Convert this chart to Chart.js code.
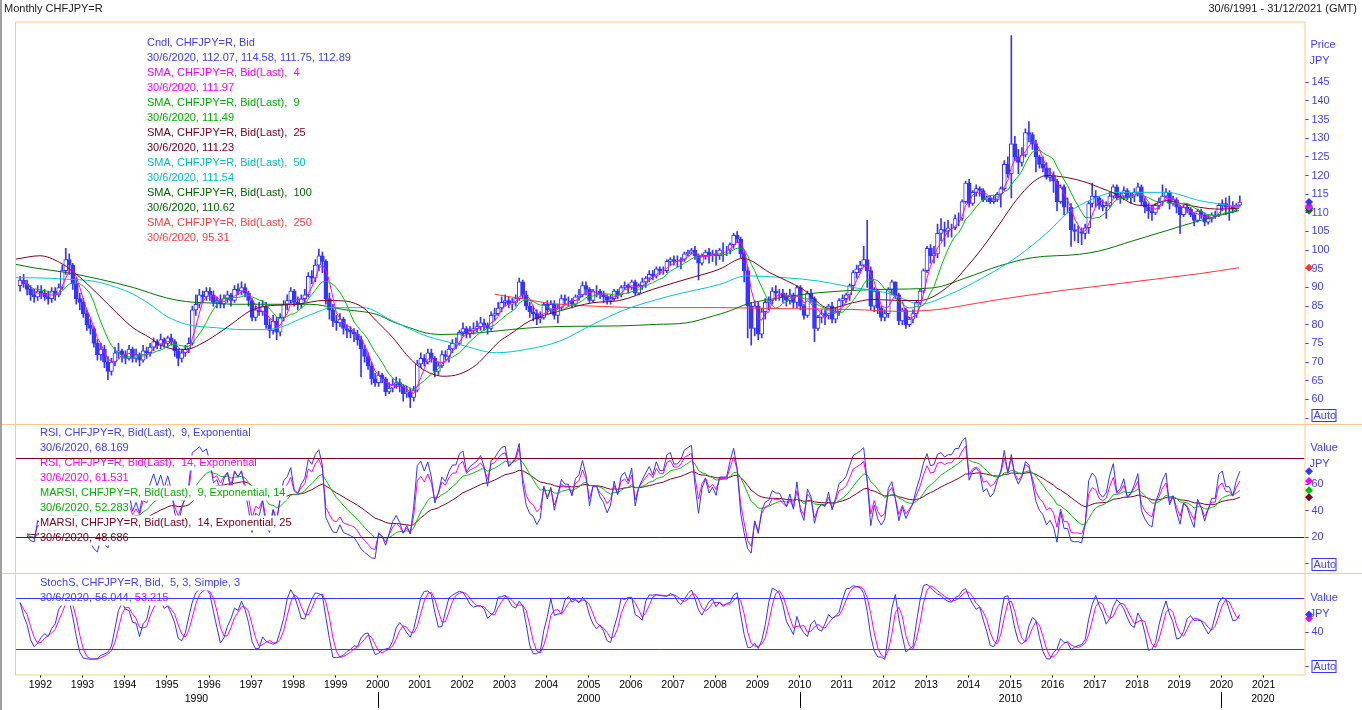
<!DOCTYPE html>
<html>
<head>
<meta charset="utf-8">
<title>Monthly CHFJPY=R</title>
<script src="https://cdn.jsdelivr.net/npm/chart.js@4.4.1/dist/chart.umd.min.js"></script>
<style>
html, body { margin: 0; padding: 0; background: #fff; overflow: hidden; }
#graphique { display: block; }
</style>
</head>
<body>
<canvas id="graphique" width="1362" height="710"></canvas>
<script>
// premier mois (juillet 1991) et ouverture du premier mois
var firstMonth = 1991.5;
var firstOpen = 90.5;

// clôtures mensuelles CHFJPY, juil. 1991 -> juin 2020
var closes = [
    92.0, 91.0, 89.5, 88.0, 87.5, 89.0,
    88.5, 87.5, 87.0, 89.0, 88.0, 90.0, 94.5, 97.5, 96.0, 91.0, 87.0, 86.0,
    83.0, 80.0, 79.0, 75.0, 72.0, 73.5, 70.0, 67.5, 70.0, 72.5, 73.0, 72.0,
    71.0, 73.5, 71.0, 72.0, 70.5, 73.0, 72.5, 74.0, 75.5, 74.5, 76.0, 75.0,
    76.5, 75.5, 73.0, 71.0, 72.5, 73.5, 75.0, 84.0, 85.5, 88.0, 87.5, 89.0,
    88.0, 86.0, 86.5, 85.5, 87.0, 88.0, 86.5, 89.5, 89.0, 90.0, 88.5, 86.5,
    82.0, 84.0, 83.5, 85.0, 80.0, 78.5, 81.0, 78.0, 82.0, 85.5, 86.5, 89.0,
    86.0, 85.5, 87.0, 88.0, 93.0, 92.5, 96.0, 98.5, 97.0, 87.0, 84.0, 81.0,
    80.5, 81.5, 79.0, 78.5, 78.0, 77.5, 76.0, 73.5, 71.5, 69.0, 65.5, 64.5,
    66.5, 65.5, 62.0, 63.0, 64.0, 64.5, 63.5, 61.5, 62.0, 60.5, 62.5, 69.5,
    71.0, 70.0, 72.5, 71.0, 67.5, 69.0, 72.0, 71.5, 73.5, 75.0, 75.0, 78.0,
    79.0, 77.5, 78.5, 79.0, 79.5, 80.5, 80.0, 79.0, 82.5, 83.0, 84.5, 86.0,
    86.5, 85.5, 86.0, 87.0, 91.5, 88.0, 85.0, 83.5, 83.0, 81.5, 82.0, 85.5,
    84.0, 85.5, 82.5, 84.5, 87.0, 86.5, 86.5, 85.5, 87.5, 88.0, 90.5, 89.5,
    86.5, 89.0, 89.0, 88.0, 87.5, 86.5, 87.0, 89.0, 88.0, 90.0, 90.5, 90.0,
    91.5, 88.5, 90.5, 91.5, 92.5, 93.5, 93.0, 95.0, 94.5, 94.5, 97.0, 97.5,
    97.0, 97.0, 97.5, 99.0, 99.5, 100.0, 98.5, 96.5, 98.5, 99.5, 98.5, 99.0,
    98.5, 100.0, 100.0, 100.0, 101.5, 104.0, 103.0, 99.0, 94.5, 85.0, 79.0, 85.0,
    77.5, 83.5, 86.0, 86.5, 89.0, 88.5, 88.5, 87.5, 86.5, 88.0, 86.0, 90.0,
    85.0, 82.5, 88.5, 87.0, 79.0, 82.0, 83.0, 82.5, 85.0, 81.5, 83.5, 86.5,
    87.0, 88.0, 90.5, 94.0, 95.0, 96.0, 97.5, 94.5, 85.0, 89.0, 84.5, 82.0,
    83.0, 89.5, 91.5, 88.0, 81.0, 84.0, 80.0, 81.5, 83.0, 86.0, 89.0, 94.5,
    100.5, 98.5, 99.0, 104.5, 105.5, 105.0, 106.0, 106.0, 108.5, 108.5, 113.0, 118.0,
    112.5, 115.5, 116.5, 116.0, 113.5, 114.0, 113.0, 113.5, 115.0, 116.5, 123.0, 120.5,
    128.5, 125.0, 123.5, 125.5, 131.5, 131.0, 128.5, 125.0, 123.0, 122.0, 119.5, 120.0,
    118.5, 113.0, 117.0, 111.5, 111.5, 105.5, 105.0, 105.0, 104.5, 106.0, 112.5, 114.5,
    114.0, 112.0, 111.5, 112.0, 114.5, 117.0, 114.0, 114.5, 116.0, 114.0, 114.5, 115.5,
    117.0, 113.0, 111.5, 110.5, 110.0, 112.0, 113.0, 114.5, 115.5, 112.5, 113.5, 111.5,
    109.5, 111.5, 111.0, 109.5, 108.0, 110.5, 109.5, 107.5, 108.5, 109.5, 109.5, 112.0,
    112.5, 111.5, 111.5, 111.0, 112.07, 112.89
];

// plus hauts mensuels
var highs = [
    93.0, 93.5, 92.0, 90.5, 89.5, 90.5,
    90.5, 89.5, 89.0, 90.0, 90.0, 91.0, 96.0, 100.5, 99.0, 96.5, 92.5, 88.5,
    87.0, 84.0, 81.5, 79.5, 76.0, 75.0, 74.5, 71.5, 71.0, 74.0, 75.0, 73.5,
    73.0, 74.5, 74.0, 73.5, 72.5, 74.5, 74.0, 75.0, 76.5, 76.0, 77.5, 76.5,
    77.0, 77.5, 76.0, 73.5, 73.5, 74.5, 76.5, 85.0, 88.0, 89.5, 89.0, 90.0,
    90.0, 89.0, 87.5, 88.0, 88.0, 89.0, 88.5, 90.5, 91.0, 91.5, 91.0, 89.0,
    87.0, 85.0, 86.0, 86.5, 86.0, 81.5, 82.5, 82.0, 83.0, 86.5, 88.0, 90.0,
    89.5, 87.5, 88.0, 89.5, 94.0, 94.5, 97.5, 100.3, 99.5, 97.5, 88.5, 85.5,
    82.5, 83.0, 82.0, 80.0, 79.5, 79.0, 78.5, 77.0, 74.5, 72.5, 70.0, 67.0,
    67.5, 67.0, 66.0, 64.5, 65.5, 66.0, 65.5, 64.0, 63.5, 63.0, 63.5, 70.5,
    72.5, 72.0, 73.5, 73.5, 71.5, 70.0, 73.0, 73.0, 74.5, 76.0, 76.5, 78.5,
    80.5, 79.5, 79.5, 80.5, 81.0, 82.0, 81.5, 80.5, 83.5, 84.5, 86.0, 87.5,
    88.0, 87.5, 87.0, 88.0, 92.5, 92.0, 89.0, 86.0, 85.0, 84.0, 83.5, 86.0,
    86.5, 86.5, 86.5, 85.5, 88.0, 88.0, 87.5, 87.0, 88.0, 89.5, 91.5, 91.5,
    90.0, 89.5, 90.5, 89.5, 89.0, 88.0, 88.0, 89.5, 89.5, 90.5, 91.5, 91.0,
    92.0, 92.0, 91.0, 92.5, 93.0, 94.5, 94.5, 95.5, 95.5, 95.5, 97.5, 98.0,
    98.5, 98.5, 98.0, 99.5, 100.0, 100.5, 101.0, 99.0, 99.0, 100.0, 100.5, 100.0,
    100.0, 100.5, 102.0, 101.0, 102.0, 104.5, 105.0, 103.5, 100.0, 95.5, 86.0, 86.5,
    86.0, 84.5, 87.0, 87.5, 90.0, 90.5, 89.5, 89.5, 88.5, 89.5, 88.5, 90.5,
    90.5, 85.5, 89.0, 89.5, 87.5, 82.5, 84.0, 84.0, 85.5, 86.0, 84.5, 87.0,
    88.0, 88.5, 91.0, 94.5, 96.0, 97.0, 101.0, 108.0, 95.5, 90.0, 89.5, 85.0,
    84.0, 90.0, 92.0, 91.5, 88.5, 84.5, 84.5, 82.0, 84.0, 86.5, 89.5, 95.0,
    101.0, 101.5, 101.0, 107.0, 108.5, 107.5, 108.0, 107.0, 109.5, 110.0, 113.5, 118.5,
    119.0, 116.0, 117.5, 117.0, 116.5, 114.5, 114.5, 114.5, 115.5, 117.0, 124.0, 125.0,
    157.5, 130.5, 127.0, 127.5, 132.5, 134.5, 131.5, 129.5, 125.5, 125.0, 123.5, 122.0,
    121.0, 119.0, 117.5, 117.5, 114.0, 112.5, 107.0, 106.5, 106.0, 107.0, 113.0, 118.0,
    116.0, 114.5, 113.5, 113.0, 115.5, 117.5, 117.5, 115.5, 117.0, 116.5, 115.5, 116.5,
    118.0, 117.5, 114.0, 112.5, 112.0, 112.5, 114.0, 117.5, 116.5, 116.0, 114.5, 114.0,
    112.0, 112.0, 112.5, 111.5, 110.0, 111.0, 111.0, 110.0, 109.5, 110.0, 110.5, 112.5,
    113.5, 114.0, 114.5, 113.0, 112.5, 114.58
];

// plus bas mensuels
var lows = [
    89.0, 90.0, 88.0, 86.5, 86.0, 86.5,
    87.0, 86.5, 85.5, 86.0, 86.5, 87.5, 89.5, 93.5, 93.5, 89.5, 85.5, 84.0,
    82.0, 78.5, 77.5, 74.0, 70.5, 70.5, 68.5, 65.3, 66.5, 69.0, 71.0, 70.0,
    69.5, 70.5, 70.0, 70.0, 69.0, 70.0, 71.0, 71.5, 73.0, 73.5, 73.5, 74.0,
    74.0, 74.5, 71.5, 69.0, 70.0, 71.5, 72.5, 74.5, 82.5, 84.5, 86.0, 86.5,
    86.5, 85.0, 84.5, 84.5, 84.5, 86.0, 85.0, 86.0, 88.0, 88.0, 87.5, 85.0,
    81.0, 81.0, 82.5, 82.5, 79.0, 76.5, 77.5, 76.0, 77.0, 81.0, 84.0, 85.5,
    85.0, 84.0, 84.5, 86.0, 87.5, 91.0, 91.5, 94.5, 94.0, 85.5, 81.5, 79.5,
    78.5, 79.5, 77.5, 76.5, 76.5, 75.5, 74.5, 66.0, 70.0, 68.0, 64.0, 63.5,
    63.5, 64.5, 61.0, 61.5, 62.0, 63.0, 62.0, 59.5, 60.5, 57.8, 59.5, 62.0,
    68.5, 69.0, 69.5, 70.0, 66.0, 66.5, 68.5, 70.5, 70.0, 72.5, 73.5, 74.5,
    77.0, 76.5, 76.5, 77.5, 78.0, 78.5, 78.5, 77.5, 78.5, 81.0, 82.5, 83.5,
    85.0, 84.5, 84.0, 85.0, 86.5, 87.0, 84.0, 82.0, 81.0, 80.0, 80.5, 81.5,
    83.0, 83.0, 81.5, 80.5, 84.0, 85.5, 85.0, 84.5, 85.0, 86.5, 87.5, 88.0,
    86.0, 86.0, 87.5, 87.0, 86.0, 85.5, 85.5, 86.5, 87.0, 87.5, 89.5, 88.5,
    89.5, 88.0, 88.0, 89.5, 90.0, 91.5, 92.0, 92.5, 93.5, 93.5, 94.0, 96.0,
    96.0, 95.5, 95.0, 97.0, 98.5, 99.0, 97.5, 92.0, 96.0, 97.5, 96.5, 97.0,
    96.0, 97.5, 97.0, 98.5, 99.0, 100.5, 102.0, 98.0, 91.5, 76.5, 74.5, 77.0,
    76.0, 76.5, 81.5, 84.0, 85.5, 86.5, 86.5, 86.0, 85.0, 85.5, 84.5, 84.5,
    84.0, 81.5, 82.0, 86.0, 75.5, 78.5, 80.5, 80.0, 81.5, 80.5, 80.5, 82.5,
    85.0, 86.0, 86.5, 89.5, 92.5, 94.0, 95.5, 90.0, 84.0, 83.5, 83.0, 81.0,
    81.0, 82.0, 88.0, 87.0, 80.0, 80.0, 79.0, 79.5, 80.5, 82.0, 85.5, 88.5,
    94.0, 96.5, 96.5, 98.0, 102.5, 101.0, 103.5, 103.5, 105.5, 106.5, 108.0, 112.5,
    111.5, 112.0, 114.5, 114.5, 113.0, 113.0, 112.5, 112.5, 113.0, 111.5, 116.0, 119.5,
    114.0, 124.0, 120.5, 122.5, 125.0, 129.0, 127.0, 121.0, 122.0, 121.0, 119.0, 118.5,
    115.5, 110.5, 112.5, 109.5, 110.0, 101.0, 102.5, 102.0, 101.5, 103.0, 104.5, 111.5,
    111.5, 111.0, 110.5, 108.5, 111.5, 114.0, 113.5, 112.5, 113.5, 113.5, 112.5, 113.0,
    114.5, 112.0, 110.0, 108.5, 108.0, 109.5, 111.0, 112.0, 114.0, 111.0, 112.0, 110.0,
    104.5, 109.0, 110.0, 109.0, 106.5, 107.5, 108.5, 106.5, 107.0, 107.5, 108.5, 109.0,
    110.5, 109.5, 108.0, 110.0, 110.5, 111.75
];

// moyennes longues : [année décimale, valeur]
var sma25Points = [
    [1991.42, 97.6], [1991.99, 98.5], [1992.46, 96.7], [1992.86, 93.5], [1993.41, 87.7],
    [1993.81, 83.2], [1994.20, 79.2], [1994.60, 76.5], [1994.83, 74.7], [1995.23, 73.4],
    [1995.47, 73.4], [1995.78, 74.7], [1996.18, 77.4], [1996.57, 80.5], [1996.97, 83.7],
    [1997.36, 85.0], [1997.76, 85.3], [1998.15, 85.6], [1998.71, 86.5], [1999.18, 86.4],
    [1999.65, 84.6], [1999.97, 81.0], [2000.36, 76.5], [2000.68, 72.0], [2000.92, 69.3],
    [2001.23, 67.1], [2001.55, 66.2], [2001.94, 66.8], [2002.34, 69.3], [2002.58, 72.0],
    [2002.89, 75.6], [2003.13, 77.4], [2003.60, 81.0], [2004.31, 83.7], [2005.10, 85.9],
    [2005.73, 86.5], [2006.52, 89.5], [2007.31, 92.2], [2008.10, 94.9], [2008.66, 97.8],
    [2009.29, 94.0], [2010.08, 89.5], [2010.71, 84.4], [2011.26, 85.9], [2011.74, 86.8],
    [2012.37, 86.5], [2012.84, 86.5], [2013.55, 90.5], [2013.95, 95.3], [2014.34, 100.7],
    [2014.74, 107.0], [2015.13, 113.3], [2015.53, 118.2], [2015.85, 120.0], [2016.32, 119.5],
    [2016.79, 118.2], [2017.11, 116.8], [2017.50, 115.0], [2017.90, 112.4], [2018.29, 111.9],
    [2018.69, 113.3], [2019.08, 112.4], [2019.48, 111.5], [2019.95, 111.0], [2020.42, 111.23]
];
var sma50Points = [
    [1991.42, 92.6], [1991.83, 92.6], [1992.62, 92.2], [1993.25, 91.7], [1993.81, 90.0],
    [1994.20, 88.2], [1994.60, 85.5], [1994.99, 82.3], [1995.47, 80.1], [1996.18, 79.2],
    [1996.81, 78.7], [1997.36, 78.7], [1997.76, 79.6], [1998.15, 81.5], [1998.63, 83.7],
    [1998.86, 84.6], [1999.65, 84.6], [2000.36, 81.0], [2001.15, 77.0], [2001.94, 74.7],
    [2002.81, 72.5], [2003.52, 73.4], [2004.31, 75.6], [2005.10, 80.1], [2005.85, 84.0],
    [2006.92, 87.7], [2008.10, 90.8], [2008.74, 93.1], [2009.68, 92.6], [2010.47, 91.7],
    [2011.26, 90.0], [2012.05, 88.6], [2012.45, 87.0], [2012.84, 85.5], [2013.55, 88.1],
    [2014.34, 92.6], [2015.13, 98.0], [2015.92, 105.2], [2016.32, 109.7], [2016.95, 113.7],
    [2017.50, 115.5], [2018.69, 115.5], [2019.48, 113.3], [2020.42, 111.54]
];
var sma100Points = [
    [1991.42, 96.2], [1991.83, 95.3], [1992.62, 94.0], [1993.41, 92.2], [1994.20, 90.0],
    [1994.99, 87.2], [1995.47, 86.2], [1996.10, 85.8], [1996.57, 85.5], [1998.39, 85.5],
    [1999.18, 84.1], [1999.97, 82.8], [2000.36, 80.8], [2000.76, 79.2], [2001.15, 77.8],
    [2001.55, 77.4], [2002.34, 77.8], [2003.13, 78.7], [2003.92, 79.4], [2004.71, 79.6],
    [2005.73, 79.7], [2006.60, 80.1], [2007.31, 80.5], [2007.94, 82.3], [2008.34, 83.7],
    [2008.74, 85.5], [2009.29, 86.8], [2010.47, 88.6], [2012.05, 89.5], [2013.16, 89.9],
    [2013.95, 92.6], [2014.74, 95.8], [2015.53, 98.0], [2016.64, 98.9], [2017.11, 99.8],
    [2017.90, 102.5], [2018.69, 105.2], [2019.48, 107.9], [2020.42, 110.62]
];
var sma250Points = [
    [2002.77, 88.2], [2003.13, 87.5], [2003.52, 86.8], [2003.92, 86.0], [2004.55, 85.3],
    [2005.35, 84.9], [2006.20, 84.6], [2008.10, 84.6], [2009.70, 84.3], [2011.26, 84.1],
    [2012.37, 83.6], [2013.00, 83.8], [2013.55, 84.5], [2013.95, 85.3], [2014.74, 86.8],
    [2015.53, 88.1], [2016.30, 89.3], [2017.11, 90.4], [2017.90, 91.5], [2018.69, 92.6],
    [2019.48, 93.7], [2020.42, 95.31]
];

// graduations
var priceTicks = [55, 60, 65, 70, 75, 80, 85, 90, 95, 100, 105, 110, 115, 120, 125, 130, 135, 140, 145];
var rsiTicks = [0, 20, 40, 60];
var stochTicks = [0, 40];
var yearTicks = [];
for (var yy = 1992; yy <= 2021; yy++) yearTicks.push(yy);
var decadeLabels = ['1990', '2000', '2010', '2020'];
var decadeBounds = [1991.4, 2000, 2010, 2020, 2021.97];

// textes des légendes
var blue = '#3535ff', magenta = '#ff00ff', green = '#00c000', maroon = '#800020',
    cyan = '#00c8d0', dkgreen = '#007800', red = '#ff3535';
var priceLegend = [
    ['Cndl, CHFJPY=R, Bid', '#4040ff'],
    ['30/6/2020, 112.07, 114.58, 111.75, 112.89', '#4040ff'],
    ['SMA, CHFJPY=R, Bid(Last),  4', magenta],
    ['30/6/2020, 111.97', magenta],
    ['SMA, CHFJPY=R, Bid(Last),  9', '#00b000'],
    ['30/6/2020, 111.49', '#00b000'],
    ['SMA, CHFJPY=R, Bid(Last),  25', maroon],
    ['30/6/2020, 111.23', maroon],
    ['SMA, CHFJPY=R, Bid(Last),  50', '#00c0c8'],
    ['30/6/2020, 111.54', '#00c0c8'],
    ['SMA, CHFJPY=R, Bid(Last),  100', '#006400'],
    ['30/6/2020, 110.62', '#006400'],
    ['SMA, CHFJPY=R, Bid(Last),  250', '#ff4040'],
    ['30/6/2020, 95.31', '#ff4040']
];
var rsiLegend = [
    ['RSI, CHFJPY=R, Bid(Last),  9, Exponential', '#4040ff'],
    ['30/6/2020, 68.169', '#4040ff'],
    ['RSI, CHFJPY=R, Bid(Last),  14, Exponential', magenta],
    ['30/6/2020, 61.531', magenta],
    ['MARSI, CHFJPY=R, Bid(Last),  9, Exponential, 14', '#00b000'],
    ['30/6/2020, 52.283', '#00b000'],
    ['MARSI, CHFJPY=R, Bid(Last),  14, Exponential, 25', maroon],
    ['30/6/2020, 48.686', maroon]
];

// ---- calculs dérivés des clôtures ----
var opens = [firstOpen].concat(closes.slice(0, closes.length - 1));
var xs = closes.map(function (c, i) { return firstMonth + i / 12 + 0.02; });

function sma(src, n) {
    var out = [];
    for (var i = 0; i < src.length; i++) {
        var s = 0, k = 0;
        for (var j = Math.max(0, i - n + 1); j <= i; j++) {
            if (src[j] !== null) { s += src[j]; k++; }
        }
        out.push(k ? s / k : null);
    }
    return out;
}
function ema(src, n) {
    var out = [], a = 2 / (n + 1), v = null;
    for (var i = 0; i < src.length; i++) {
        if (src[i] === null) { out.push(null); continue; }
        v = v === null ? src[i] : v + a * (src[i] - v);
        out.push(v);
    }
    return out;
}
// RSI à lissage exponentiel (alpha = 2 / (n + 1))
function rsi(src, n) {
    var out = [null], g = 0, l = 0, a = 2 / (n + 1);
    for (var i = 1; i < src.length; i++) {
        var d = src[i] - src[i - 1];
        var up = d > 0 ? d : 0, dn = d < 0 ? -d : 0;
        if (i === 1) { g = up + 0.5; l = dn + 0.5; }
        else { g += a * (up - g); l += a * (dn - l); }
        out.push(i < 2 ? null : (l === 0 ? 100 : 100 - 100 / (1 + g / l)));
    }
    return out;
}
function stochFast(n) {
    var out = [];
    for (var i = 0; i < closes.length; i++) {
        var hh = -Infinity, ll = Infinity;
        for (var j = Math.max(0, i - n + 1); j <= i; j++) {
            hh = Math.max(hh, highs[j]); ll = Math.min(ll, lows[j]);
        }
        out.push(hh > ll ? (closes[i] - ll) / (hh - ll) * 100 : 50);
    }
    return out;
}

var sma4 = sma(closes, 4), sma9 = sma(closes, 9);
var rsi9 = rsi(closes, 9), rsi14 = rsi(closes, 14);
var marsi9 = ema(rsi9, 14), marsi14 = ema(rsi14, 25);
var stochK = sma(stochFast(5), 3);
var stochD = sma(stochK, 3);

function serie(vals) { return vals.map(function (v, i) { return { x: xs[i], y: v }; }); }
function points(arr) { return arr.map(function (p) { return { x: p[0], y: p[1] }; }); }

function ligne(label, data, color, axis, smooth) {
    return {
        type: 'line', label: label, data: data, yAxisID: axis,
        borderColor: color, borderWidth: 1, pointRadius: 0, order: 0,
        cubicInterpolationMode: smooth ? 'monotone' : 'default', tension: 0, spanGaps: true
    };
}

var fontTxt = '11px "Liberation Sans", Arial, sans-serif';
var orange = '#ffc88c';

// décor : cadre, légendes, niveaux, repères d'axe
var decor = {
    id: 'decor',
    afterDraw: function (chart) {
        var c = chart.ctx, a = chart.chartArea, W = chart.width;
        var yp = chart.scales.y, yr = chart.scales.yR, ys = chart.scales.yS, x = chart.scales.x;
        c.save();
        c.font = fontTxt;
        c.textBaseline = 'middle';

        // légendes sur fond blanc
        function legende(lines, lx, ly) {
            lines.forEach(function (l, i) {
                var w = c.measureText(l[0]).width;
                c.fillStyle = '#fff';
                c.fillRect(lx - 1, ly + i * 15 - 7.5, w + 2, 15);
                c.fillStyle = l[1];
                c.textAlign = 'left';
                c.fillText(l[0], lx, ly + i * 15);
            });
        }
        legende(priceLegend, 147, 43);
        legende(rsiLegend, 40, 433);
        legende([['StochS, CHFJPY=R, Bid,  5, 3, Simple, 3', '#4040ff']], 40, 583);
        var t1 = '30/6/2020, 56.044, ', t2 = '53.215';
        var w1 = c.measureText(t1).width, w2 = c.measureText(t2).width;
        c.fillStyle = '#fff'; c.fillRect(39, 590.5, w1 + w2 + 2, 15);
        c.fillStyle = '#4040ff'; c.fillText(t1, 40, 598);
        c.fillStyle = magenta; c.fillText(t2, 40 + w1, 598);

        // niveaux 80 / 20
        function niveau(scale, v, col) {
            var y = Math.round(scale.getPixelForValue(v)) + 0.5;
            c.strokeStyle = col; c.lineWidth = 1;
            c.beginPath(); c.moveTo(a.left, y); c.lineTo(a.right, y); c.stroke();
        }
        niveau(yr, 80, maroon); niveau(yr, 20, maroon);
        niveau(ys, 80, blue); niveau(ys, 20, blue);

        // cadre orange
        c.strokeStyle = orange; c.lineWidth = 1;
        var sep1 = Math.round(yp.bottom) + 0.5, sep2 = Math.round(yr.bottom) + 0.5;
        c.beginPath();
        c.moveTo(a.left + 0.5, a.top + 0.5); c.lineTo(a.right + 0.5, a.top + 0.5);
        c.lineTo(a.right + 0.5, a.bottom + 0.5); c.lineTo(a.left + 0.5, a.bottom + 0.5);
        c.closePath();
        c.moveTo(0, sep1); c.lineTo(W, sep1);
        c.moveTo(0, sep2); c.lineTo(W, sep2);
        c.stroke();
        c.strokeStyle = '#a0a0a0'; c.lineWidth = 2;
        c.beginPath(); c.moveTo(1, 0); c.lineTo(1, chart.height); c.stroke();

        // titres d'axes et boutons Auto
        var ax = a.right + 6;
        c.fillStyle = '#4040ff'; c.textAlign = 'left';
        c.fillText('Price', ax, 45); c.fillText('JPY', ax - 1, 61);
        c.fillText('Value', ax, 448); c.fillText('JPY', ax - 1, 464);
        c.fillText('Value', ax, 598); c.fillText('JPY', ax - 1, 614);
        [yp.bottom, yr.bottom, ys.bottom].forEach(function (b) {
            var by = Math.round(b) - 14.5;
            c.fillStyle = '#fff'; c.fillRect(ax + 1, by, 24, 12);
            c.strokeStyle = blue; c.lineWidth = 1; c.strokeRect(ax + 1.5, by, 24, 12);
            c.fillStyle = '#4040ff'; c.fillText('Auto', ax + 3, by + 6.5);
        });

        // losanges des dernières valeurs
        function losange(scale, v, col) {
            var py = scale.getPixelForValue(v), px = a.right + 4.5;
            c.fillStyle = col;
            c.beginPath();
            c.moveTo(px, py - 4); c.lineTo(px + 4, py); c.lineTo(px, py + 4); c.lineTo(px - 4, py);
            c.closePath(); c.fill();
        }
        var last = closes.length - 1;
        losange(yp, sma250Points[sma250Points.length - 1][1], red);
        losange(yp, sma100Points[sma100Points.length - 1][1], dkgreen);
        losange(yp, sma9[last], green);
        losange(yp, sma25Points[sma25Points.length - 1][1], maroon);
        losange(yp, sma50Points[sma50Points.length - 1][1], cyan);
        losange(yp, sma4[last], magenta);
        losange(yp, closes[last], blue);
        losange(yr, marsi14[last], maroon);
        losange(yr, marsi9[last], green);
        losange(yr, rsi14[last], magenta);
        losange(yr, rsi9[last], blue);
        losange(ys, stochD[last], magenta);
        losange(ys, stochK[last], blue);

        // rangée des décennies
        c.font = '10.5px "Liberation Sans", Arial, sans-serif';
        c.fillStyle = '#000'; c.textAlign = 'center';
        c.strokeStyle = '#000'; c.lineWidth = 1;
        for (var i = 0; i < decadeLabels.length; i++) {
            var l = x.getPixelForValue(decadeBounds[i]), r = x.getPixelForValue(decadeBounds[i + 1]);
            c.fillText(decadeLabels[i], (l + r) / 2, 699);
            if (i > 0) {
                var tx = Math.round(l) + 0.5;
                c.beginPath(); c.moveTo(tx, 692); c.lineTo(tx, 708); c.stroke();
            }
        }

        // en-tête
        c.font = fontTxt;
        c.fillStyle = '#202020';
        c.textAlign = 'left'; c.fillText('Monthly CHFJPY=R', 4, 9);
        c.textAlign = 'right'; c.fillText('30/6/1991 - 31/12/2021 (GMT)', W - 5, 9);
        c.restore();
    }
};

function axeDroit(min, max, ticks, weight) {
    return {
        type: 'linear', position: 'right', stack: 'panneaux', stackWeight: weight,
        min: min, max: max, offset: false,
        afterBuildTicks: function (s) { s.ticks = ticks.map(function (v) { return { value: v }; }); },
        afterFit: function (s) { s.width = 57.5; },
        border: { display: false },
        grid: { display: true, drawOnChartArea: false, drawTicks: true, tickLength: 4, tickColor: blue },
        ticks: {
            color: '#4040ff', padding: 3, autoSkip: false,
            font: { family: '"Liberation Sans", Arial', size: 10.8 },
            callback: function (v) { return v === ticks[0] ? '' : v; }
        }
    };
}

var ctx = document.getElementById('graphique');
var graphique = new Chart(ctx, {
    type: 'bar',
    data: {
        datasets: [
            ligne('SMA 4', serie(sma4), magenta, 'y', false),
            ligne('SMA 9', serie(sma9), green, 'y', false),
            ligne('SMA 25', points(sma25Points), maroon, 'y', true),
            ligne('SMA 50', points(sma50Points), cyan, 'y', true),
            ligne('SMA 100', points(sma100Points), dkgreen, 'y', true),
            ligne('SMA 250', points(sma250Points), red, 'y', true),
            {
                label: 'corps', yAxisID: 'y', order: 1, grouped: false,
                data: xs.map(function (x, i) { return { x: x, y: [opens[i], closes[i]] }; }),
                backgroundColor: closes.map(function (c, i) { return c >= opens[i] ? '#ffffff' : blue; }),
                borderColor: blue, borderWidth: 1, borderSkipped: false, barThickness: 4
            },
            {
                label: 'mèches', yAxisID: 'y', order: 2, grouped: false,
                data: xs.map(function (x, i) { return { x: x, y: [lows[i], highs[i]] }; }),
                backgroundColor: blue, borderWidth: 0, barThickness: 1
            },
            ligne('RSI 9', serie(rsi9), blue, 'yR', false),
            ligne('RSI 14', serie(rsi14), magenta, 'yR', false),
            ligne('MARSI 9', serie(marsi9), green, 'yR', false),
            ligne('MARSI 14', serie(marsi14), maroon, 'yR', false),
            ligne('%K', serie(stochK), blue, 'yS', false),
            ligne('%D', serie(stochD), magenta, 'yS', false)
        ]
    },
    options: {
        responsive: false,
        maintainAspectRatio: false,
        animation: false,
        devicePixelRatio: 1,
        layout: { padding: { left: 15, top: 21.5, right: 0, bottom: 0 } },
        plugins: { legend: { display: false }, tooltip: { enabled: false } },
        scales: {
            x: {
                type: 'linear', min: 1991.4, max: 2021.97, offset: false,
                afterBuildTicks: function (s) { s.ticks = yearTicks.map(function (v) { return { value: v }; }); },
                afterFit: function (s) { s.height = 35.5; },
                border: { display: false },
                grid: { display: true, drawOnChartArea: false, drawTicks: true, tickLength: 3, tickColor: '#000', offset: false },
                ticks: {
                    color: '#000', padding: 1, maxRotation: 0, autoSkip: false,
                    font: { family: '"Liberation Sans", Arial', size: 10.5 },
                    callback: function (v) { return String(v); }
                }
            },
            y: axeDroit(53.4, 161.3, priceTicks, 402.5),
            yR: axeDroit(-7.2, 105.5, rsiTicks, 149.3),
            yS: axeDroit(-9.9, 109.6, stochTicks, 101.2)
        }
    },
    plugins: [decor]
});
</script>
</body>
</html>
